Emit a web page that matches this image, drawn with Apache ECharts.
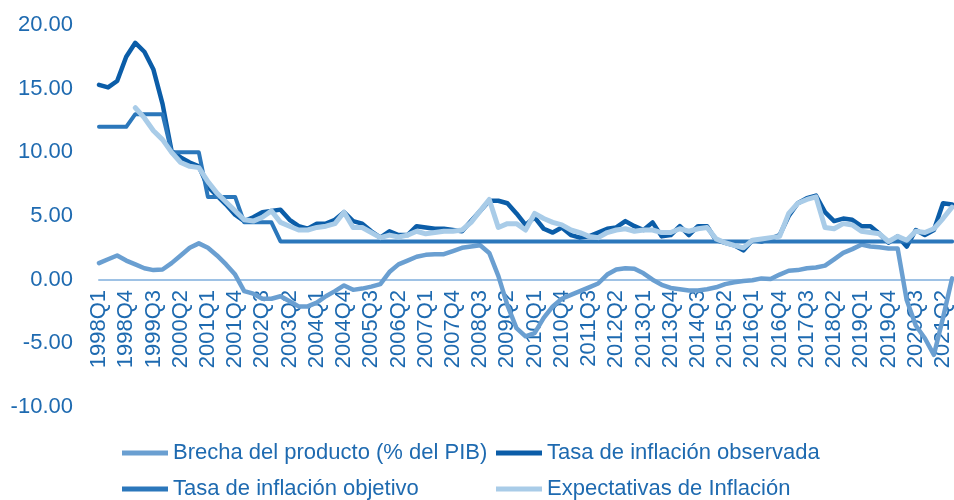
<!DOCTYPE html>
<html>
<head>
<meta charset="utf-8">
<script src="https://cdn.jsdelivr.net/npm/echarts@6/dist/echarts.min.js"></script>
<style>html,body{margin:0;padding:0;background:#fff}#c{width:954px;height:500px}</style>
</head>
<body>
<div id="c"></div>
<script>
// Quarterly categories 1998Q1 .. 2021Q3
var years = [1998,1999,2000,2001,2002,2003,2004,2005,2006,2007,2008,2009,2010,2011,2012,2013,2014,2015,2016,2017,2018,2019,2020,2021];
var quarters = ['Q1','Q2','Q3','Q4'];
var categories = [];
years.forEach(function(y){ quarters.forEach(function(q){ categories.push(y + q); }); });
categories = categories.slice(0, 95);

var brecha = [1.3,1.6,1.9,1.5,1.2,0.9,0.75,0.8,1.3,1.9,2.5,2.85,2.5,1.9,1.2,0.4,-0.9,-1.1,-1.5,-1.5,
  -1.3,-1.7,-2.1,-2.1,-1.8,-1.3,-0.9,-0.45,-0.8,-0.7,-0.55,-0.35,0.6,1.2,1.5,1.8,1.95,2.0,2.0,2.25,
  2.5,2.6,2.7,2.1,0.3,-2.0,-3.8,-4.45,-4.2,-3.0,-2.1,-1.5,-1.2,-0.9,-0.6,-0.3,0.4,0.8,0.9,0.85,
  0.5,0.0,-0.4,-0.65,-0.75,-0.85,-0.85,-0.75,-0.6,-0.35,-0.2,-0.1,-0.05,0.1,0.05,0.4,0.7,0.75,0.9,0.95,
  1.1,1.6,2.1,2.4,2.75,2.6,2.55,2.45,2.45,-1.6,-3.6,-4.6,-5.9,-3.0,0.1];

var observada = [15.3,15.1,15.6,17.5,18.6,17.9,16.5,13.8,10.1,9.6,9.2,8.9,7.3,6.6,5.9,5.1,4.6,4.9,5.3,5.4,
  5.5,4.7,4.2,4.0,4.4,4.4,4.7,5.3,4.6,4.4,3.8,3.3,3.8,3.5,3.5,4.2,4.1,4.0,4.0,3.9,
  3.8,4.6,5.4,6.2,6.2,6.0,5.2,4.3,4.9,4.0,3.7,4.1,3.5,3.3,3.4,3.7,4.0,4.1,4.6,4.2,
  3.9,4.5,3.4,3.5,4.2,3.5,4.2,4.2,3.1,2.9,2.7,2.3,3.1,3.0,3.2,3.5,5.0,6.0,6.4,6.6,
  5.3,4.6,4.8,4.7,4.2,4.2,3.6,2.9,3.4,2.6,3.9,3.5,3.9,6.0,5.9];

var objetivo = [12,12,12,12,13,13,13,13,10,10,10,10,6.5,6.5,6.5,6.5,4.5,4.5,4.5,4.5,
  3,3,3,3,3,3,3,3,3,3,3,3,3,3,3,3,3,3,3,3,
  3,3,3,3,3,3,3,3,3,3,3,3,3,3,3,3,3,3,3,3,
  3,3,3,3,3,3,3,3,3,3,3,3,3,3,3,3,3,3,3,3,
  3,3,3,3,3,3,3,3,3,3,3,3,3,3,3];

var expectativas = [null,null,null,null,13.5,12.7,11.7,11.0,10.0,9.2,8.9,8.8,7.7,6.8,6.1,5.4,4.7,4.6,4.9,5.4,
  4.5,4.2,3.9,3.9,4.1,4.2,4.4,5.3,4.1,4.1,3.7,3.3,3.5,3.35,3.5,3.8,3.6,3.7,3.8,3.8,
  3.9,4.5,5.4,6.3,4.1,4.4,4.4,3.9,5.2,4.8,4.5,4.3,3.9,3.7,3.4,3.3,3.7,3.9,4.0,3.8,
  3.9,3.9,3.7,3.7,4.0,3.8,4.0,4.1,3.2,2.9,2.7,2.5,3.1,3.2,3.3,3.4,5.2,6.0,6.3,6.5,
  4.1,4.0,4.4,4.3,3.8,3.7,3.6,3.0,3.4,3.1,3.8,3.7,4.0,4.8,5.7];

var names = ['Brecha del producto (% del PIB)','Tasa de inflación observada','Tasa de inflación objetivo','Expectativas de Inflación'];
var colors = ['#6A9FD1','#0B5DA8','#2B77BB','#A9CCE8'];
var widths = [4.5,4.5,4,5];
var seriesData = [brecha, observada, objetivo, expectativas];

var FONT = 'Liberation Sans, Arial, sans-serif';
var TXT = '#1E6AB0';
var FS = 22;

var chart = echarts.init(document.getElementById('c'), null, {renderer:'canvas'});
chart.setOption({
  animation: false,
  backgroundColor: '#ffffff',
  grid: {left: 99, right: 0, top: 25, bottom: 93, containLabel: false},
  legend: [
    {data: [names[0], names[2]], orient: 'vertical', left: 122, top: 442, height: 120, itemGap: 14, padding: 0,
     icon: 'rect', itemWidth: 46, itemHeight: 5,
     textStyle: {color: TXT, fontSize: FS, fontFamily: FONT}},
    {data: [names[1], names[3]], orient: 'vertical', left: 496, top: 442, height: 120, itemGap: 14, padding: 0,
     icon: 'rect', itemWidth: 46, itemHeight: 5,
     textStyle: {color: TXT, fontSize: FS, fontFamily: FONT}}
  ],
  xAxis: {
    type: 'category', data: categories, boundaryGap: false,
    offset: -127,
    axisLine: {onZero: false, lineStyle: {color: '#9EC2E5', width: 2}},
    axisTick: {show: false},
    axisLabel: {rotate: 90, interval: 2, color: TXT, fontSize: FS, fontFamily: FONT, margin: 10},
    splitLine: {show: false}
  },
  yAxis: {
    type: 'value', min: -10, max: 20, interval: 5,
    axisLine: {show: false}, axisTick: {show: false}, splitLine: {show: false},
    axisLabel: {color: TXT, fontSize: FS, fontFamily: FONT, margin: 26,
      formatter: function(v){ return v.toFixed(2); }}
  },
  series: seriesData.map(function(d, k){
    return {name: names[k], type: 'line', data: d, symbol: 'none', connectNulls: false,
      lineStyle: {color: colors[k], width: widths[k], join: 'round', cap: 'round'},
      itemStyle: {color: colors[k]}, z: 2 + k};
  })
});
</script>
</body>
</html>
